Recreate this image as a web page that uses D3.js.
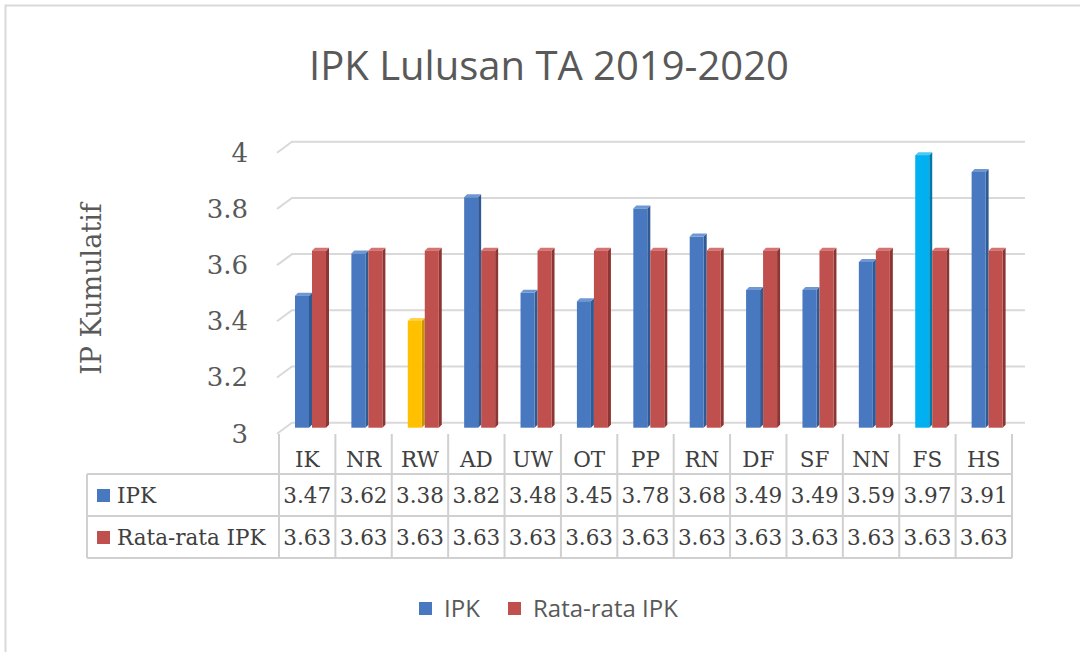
<!DOCTYPE html>
<html>
<head>
<meta charset="utf-8">
<script src="https://cdn.jsdelivr.net/npm/d3@7"></script>
<style>
  body { margin: 0; background: #fff; }
  svg { display: block; }
</style>
</head>
<body>
<div id="chart"></div>
<script>
// Data
var categories = ["IK", "NR", "RW", "AD", "UW", "OT", "PP", "RN", "DF", "SF", "NN", "FS", "HS"];
var ipk = [3.47, 3.62, 3.38, 3.82, 3.48, 3.45, 3.78, 3.68, 3.49, 3.49, 3.59, 3.97, 3.91];
var rataRata = [3.63, 3.63, 3.63, 3.63, 3.63, 3.63, 3.63, 3.63, 3.63, 3.63, 3.63, 3.63, 3.63];
var seriesNames = ["IPK", "Rata-rata IPK"];
var yTicks = [3, 3.2, 3.4, 3.6, 3.8, 4];

var svgWidth = 1080;
var svgHeight = 652;

// colours (the lowest and highest IPK bars are highlighted)
var blue = { face: "#4878c0", side: "#2f5a94", top: "#6f98d2" };
var red = { face: "#c0504d", side: "#8c3634", top: "#d47371" };
var highlight = {
    RW: { face: "#ffc000", side: "#c99500", top: "#ffd24d" },
    FS: { face: "#00b0f0", side: "#0079ab", top: "#4cc9f5" }
};

var svg = d3.select("#chart")
            .append("svg")
            .attr("width", svgWidth)
            .attr("height", svgHeight);

// outer chart border
svg.append("rect")
   .attr("x", 5.5)
   .attr("y", 5.5)
   .attr("width", 1100)
   .attr("height", 700)
   .attr("fill", "none")
   .attr("stroke", "#d9d9d9")
   .attr("stroke-width", 2);

// title
svg.append("text")
   .attr("x", 549)
   .attr("y", 80)
   .attr("text-anchor", "middle")
   .style("font-family", "'Open Sans', sans-serif")
   .style("font-size", "40px")
   .style("fill", "#595959")
   .text("IPK Lulusan TA 2019-2020");

// scales: back wall values, depth of the 3D floor
var depthX = 15, depthY = 11;
var x = d3.scaleBand()
          .domain(categories)
          .range([279, 1012]);
var yBack = d3.scaleLinear()
              .domain([3, 4])
              .range([422.7, 141.7]);
var yFront = d3.scaleLinear()
               .domain([3, 4])
               .range([422.7 + depthY, 141.7 + depthY]);
var barShift = 5;

// gridlines: back wall + slanted side wall piece
var grid = svg.append("g");
yTicks.forEach(function(t) {
    grid.append("path")
        .attr("d", `M277,${yFront(t)} L${277 + depthX},${yBack(t)} L1025,${yBack(t)}`)
        .attr("fill", "none")
        .attr("stroke", "#d9d9d9")
        .attr("stroke-width", 2);
});

// y axis tick labels
var leftAxis = d3.axisLeft(yFront)
                 .tickValues(yTicks)
                 .tickSize(0)
                 .tickPadding(0)
                 .tickFormat(d => String(d));
var yAxisGroup = svg.append("g")
                    .attr("transform", "translate(248,0)")
                    .call(leftAxis);
yAxisGroup.select(".domain").remove();
yAxisGroup.selectAll("text")
          .style("font-family", "'DejaVu Serif', serif")
          .style("font-size", "26px")
          .style("fill", "#595959");

// y axis title
svg.append("text")
   .attr("transform", "translate(101,289) rotate(-90)")
   .attr("text-anchor", "middle")
   .style("font-family", "'DejaVu Serif', serif")
   .style("font-size", "27px")
   .style("fill", "#595959")
   .text("IP Kumulatif");

// 3D bars
var barW = 14, sideW = 3, sideH = 3;
var bars = svg.append("g");

function drawBar(x0, value, col) {
    var top = yBack(value) + barShift;
    var bottom = yBack(3) + barShift;
    var g = bars.append("g");
    g.append("path")
     .attr("d", `M${x0 + barW},${top} L${x0 + barW + sideW},${top - sideH} L${x0 + barW + sideW},${bottom - sideH} L${x0 + barW},${bottom} Z`)
     .attr("fill", col.side);
    g.append("path")
     .attr("d", `M${x0},${top} L${x0 + sideW},${top - sideH} L${x0 + barW + sideW},${top - sideH} L${x0 + barW},${top} Z`)
     .attr("fill", col.top);
    g.append("rect")
     .attr("x", x0)
     .attr("y", top)
     .attr("width", barW)
     .attr("height", bottom - top)
     .attr("fill", col.face);
}

categories.forEach(function(c, i) {
    var x0 = x(c) + 16;
    drawBar(x0, ipk[i], highlight[c] || blue);
    drawBar(x0 + barW + sideW, rataRata[i], red);
});

// data table under the chart
var tableLeft = 87;
var rowTops = [434, 474, 516, 558];
var table = svg.append("g")
               .style("font-family", "'DejaVu Serif', serif")
               .style("font-size", "21.5px")
               .style("fill", "#404040");
var lineColor = "#d0d0d0";

// horizontal lines
[1, 2, 3].forEach(function(r) {
    table.append("line")
         .attr("x1", tableLeft).attr("x2", x.range()[1])
         .attr("y1", rowTops[r]).attr("y2", rowTops[r]);
});
// vertical lines
table.append("line")
     .attr("x1", tableLeft).attr("x2", tableLeft)
     .attr("y1", rowTops[1]).attr("y2", rowTops[3]);
categories.concat(["end"]).forEach(function(c, i) {
    var xx = x.range()[0] + i * x.bandwidth();
    table.append("line")
         .attr("x1", xx).attr("x2", xx)
         .attr("y1", rowTops[0]).attr("y2", rowTops[3]);
});
table.selectAll("line")
     .attr("stroke", lineColor)
     .attr("stroke-width", 2);

// category labels
table.selectAll(".cat")
     .data(categories)
     .enter()
     .append("text")
     .attr("class", "cat")
     .attr("x", d => x(d) + x.bandwidth() / 2)
     .attr("y", 467)
     .attr("text-anchor", "middle")
     .text(d => d);

// series rows
var rows = [
    { name: seriesNames[0], values: ipk, color: blue.face, y: 503 },
    { name: seriesNames[1], values: rataRata, color: red.face, y: 545 }
];
rows.forEach(function(r) {
    table.append("rect")
         .attr("x", 97)
         .attr("y", r.y - 14)
         .attr("width", 13)
         .attr("height", 13)
         .attr("fill", r.color);
    table.append("text")
         .attr("x", 117)
         .attr("y", r.y)
         .text(r.name);
    table.selectAll(null)
         .data(r.values)
         .enter()
         .append("text")
         .attr("x", (d, i) => x(categories[i]) + x.bandwidth() / 2)
         .attr("y", r.y)
         .attr("text-anchor", "middle")
         .text(d => d.toFixed(2));
});

// legend
var legend = svg.append("g")
                .style("font-family", "'Open Sans', sans-serif")
                .style("font-size", "24px")
                .style("fill", "#595959");
var legendItems = [
    { name: seriesNames[0], color: blue.face, x: 419 },
    { name: seriesNames[1], color: red.face, x: 508 }
];
legendItems.forEach(function(l) {
    legend.append("rect")
          .attr("x", l.x)
          .attr("y", 602)
          .attr("width", 13)
          .attr("height", 13)
          .attr("fill", l.color);
    legend.append("text")
          .attr("x", l.x + 25)
          .attr("y", 617)
          .text(l.name);
});
</script>
</body>
</html>
